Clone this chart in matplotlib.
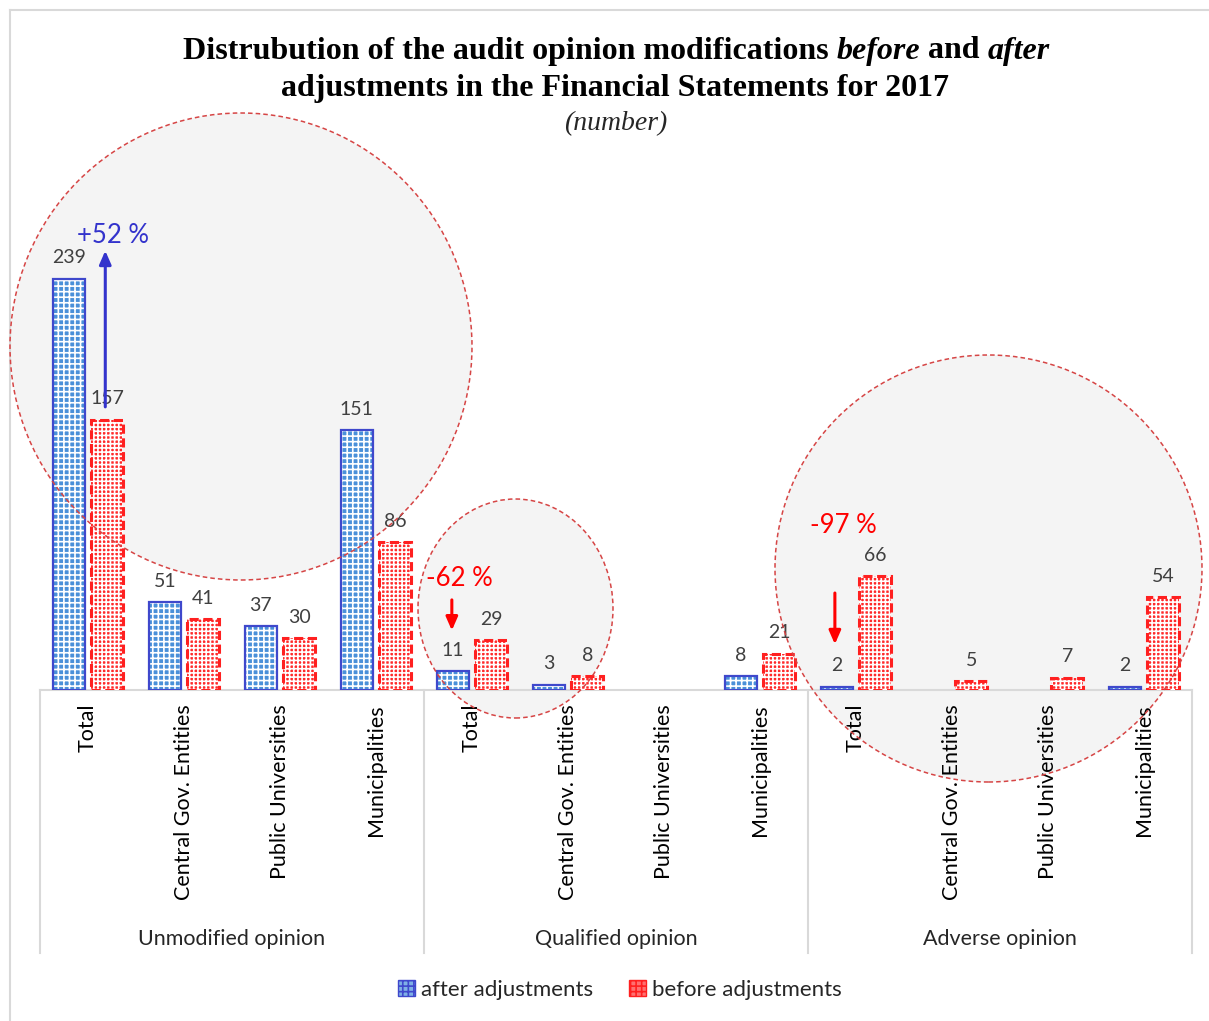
import matplotlib
matplotlib.use("Agg")
import matplotlib.pyplot as plt
from matplotlib.patches import Ellipse, Patch
from matplotlib.lines import Line2D
import numpy as np

plt.rcParams['hatch.linewidth'] = 1.2

groups = ["Unmodified opinion", "Qualified opinion", "Adverse opinion"]
entities = ["Total", "Central Gov. Entities", "Public Universities", "Municipalities"]
after_adj = [239, 51, 37, 151, 11, 3, 0, 8, 2, 0, 0, 2]
before_adj = [157, 41, 30, 86, 29, 8, 0, 21, 66, 5, 7, 54]
changes = ["+52 %", "-62 %", "-97 %"]

W, H = 1209, 1021
fig = plt.figure(figsize=(W / 100, H / 100), dpi=100)
fig.patch.set_facecolor("white")

def fx(px):
    return px / W

def fy(py):
    return 1 - py / H

ax_left, ax_right, ax_base, ax_top = 40, 1192, 690, 208
ax = fig.add_axes([fx(ax_left), fy(ax_base), fx(ax_right - ax_left), (ax_base - ax_top) / H])
ax.set_facecolor("none")
ax.set_zorder(2)

n = len(after_adj)
x = np.arange(n)
bw = 0.33
off = 0.2

blue_face = "#4a90d9"
blue_edge = "#3f48cc"
red_face = "#ff2a2a"
red_edge = "#ff2020"

a = np.array(after_adj, dtype=float)
b = np.array(before_adj, dtype=float)
ma = a > 0
mb = b > 0

# after bars
ax.bar(x[ma] - off, a[ma], bw, color=blue_face, linewidth=0, zorder=2)
ax.bar(x[ma] - off, a[ma], bw, facecolor="none", edgecolor="white", hatch="+++", linewidth=0, zorder=3)
ax.bar(x[ma] - off, a[ma], bw, facecolor="none", edgecolor=blue_edge, linewidth=1.6, zorder=4)
# before bars
ax.bar(x[mb] + off, b[mb], bw, color=red_face, linewidth=0, zorder=2)
ax.bar(x[mb] + off, b[mb], bw, facecolor="none", edgecolor="white", hatch="++++", linewidth=0, zorder=3)
ax.bar(x[mb] + off, b[mb], bw, facecolor="none", edgecolor=red_edge, linewidth=2.2,
       linestyle=(0, (3, 1.5)), zorder=4)

lab_color = "#404040"
for i in range(n):
    if after_adj[i] > 0:
        ax.annotate(str(after_adj[i]), (x[i] - off, after_adj[i]), xytext=(0, 9),
                    textcoords="offset points", ha="center", va="bottom",
                    fontsize=14, color=lab_color, family="Lato", zorder=6)
    if before_adj[i] > 0:
        ax.annotate(str(before_adj[i]), (x[i] + off, before_adj[i]), xytext=(0, 9),
                    textcoords="offset points", ha="center", va="bottom",
                    fontsize=14, color=lab_color, family="Lato", zorder=6)

ax.set_xlim(-0.5, n - 0.5)
ax.set_ylim(0, (ax_base - ax_top) / 1.72)
ax.set_yticks([])
for s in ["top", "right", "left"]:
    ax.spines[s].set_visible(False)
ax.spines["bottom"].set_color("#d9d9d9")
ax.spines["bottom"].set_linewidth(1.5)
ax.set_xticks(x)
ax.set_xticklabels(entities * 3, rotation=90, va="top", ha="center",
                   fontsize=15.5, family="Lato", color="black")
ax.tick_params(axis="x", length=0, pad=10)

# group separators and labels
for g in range(4):
    xs = g * 4 - 0.5
    ax.plot([xs, xs], [0, -(953 - ax_base) / 1.72], color="#d9d9d9", lw=1.5,
            clip_on=False, zorder=1)
for g, name in enumerate(groups):
    ax.text(g * 4 + 1.5, -(939 - ax_base) / 1.72, name, ha="center", va="center",
            fontsize=15.5, family="Lato", color="#262626", clip_on=False)

# change arrows
blue_arrow = "#3333cc"
ax.annotate("", xy=(0.18, 257), xytext=(0.18, 163),
            arrowprops=dict(arrowstyle="-|>,head_length=0.8,head_width=0.35", color=blue_arrow, lw=2.2),
            zorder=7)
ax.text(0.26, 264.5, changes[0], ha="center", va="center", fontsize=18.5,
        family="Lato", color=blue_arrow, zorder=7)
ax.annotate("", xy=(4 - 0.21, 33), xytext=(4 - 0.21, 54),
            arrowprops=dict(arrowstyle="-|>,head_length=0.8,head_width=0.35", color="red", lw=2.2),
            zorder=7)
ax.text(4 - 0.13, 65, changes[1], ha="center", va="center", fontsize=18.5,
        family="Lato", color="red", zorder=7)
ax.annotate("", xy=(8 - 0.22, 25), xytext=(8 - 0.22, 58),
            arrowprops=dict(arrowstyle="-|>,head_length=0.8,head_width=0.35", color="red", lw=2.2),
            zorder=7)
ax.text(8 - 0.135, 95.5, changes[2], ha="center", va="center", fontsize=18.5,
        family="Lato", color="red", zorder=7)

# highlight circles
circles = [(241, 346.5, 231, 233.5), (515.5, 608.5, 97.5, 109.5), (988.5, 568.5, 213.5, 213.5)]
for cx, cy, rx, ry in circles:
    fill = Ellipse((fx(cx), fy(cy)), 2 * rx / W, 2 * ry / H, transform=fig.transFigure,
                   facecolor="#f4f4f4", edgecolor="none", zorder=-1)
    fig.add_artist(fill)
    edge = Ellipse((fx(cx), fy(cy)), 2 * rx / W, 2 * ry / H, transform=fig.transFigure,
                   facecolor="none", edgecolor="#d64545", lw=1.1, linestyle=(0, (3, 2)), zorder=10)
    fig.add_artist(edge)

# chart border
fig.add_artist(Line2D([fx(10), fx(10)], [fy(10), 0], transform=fig.transFigure, color="#d9d9d9", lw=1.5))
fig.add_artist(Line2D([fx(10), 1], [fy(10), fy(10)], transform=fig.transFigure, color="#d9d9d9", lw=1.5))

# titles
title_font = dict(family="Liberation Serif", weight="bold", size=23)
t1 = [("Distrubution of the audit opinion modifications ", "normal"), ("before", "italic"),
      (" and ", "normal"), ("after", "italic")]
renderer = fig.canvas.get_renderer()
pieces = []
total_w = 0
for txt, st in t1:
    tt = fig.text(0, 0, txt, fontstyle=st, **title_font)
    bb = tt.get_window_extent(renderer=renderer)
    pieces.append((tt, bb.width))
    total_w += bb.width
xstart = (W - total_w) / 2 + 12
for tt, wdt in pieces:
    tt.set_position((xstart / W, fy(51)))
    tt.set_va("center")
    tt.set_ha("left")
    xstart += wdt
fig.text(fx(615), fy(88), "adjustments in the Financial Statements for 2017", ha="center", va="center",
         **title_font)
fig.text(fx(616), fy(124), "(number)", ha="center", va="center", family="Liberation Serif",
         style="italic", size=20, color="#262626")

# legend
handles = [Patch(facecolor="#7fb0e6", edgecolor=blue_edge, hatch="+++", label="after adjustments"),
           Patch(facecolor="#ff7070", edgecolor=red_edge, hatch="+++", label="before adjustments")]
leg = fig.legend(handles=handles, loc="center", bbox_to_anchor=(fx(620), fy(990)), ncol=2,
                 frameon=False, prop=dict(family="Lato", size=16), handlelength=0.75,
                 handleheight=0.75, handletextpad=0.3, columnspacing=1.6)
for t in leg.get_texts():
    t.set_color("#262626")

fig.savefig("out.png", dpi=100, facecolor="white")
